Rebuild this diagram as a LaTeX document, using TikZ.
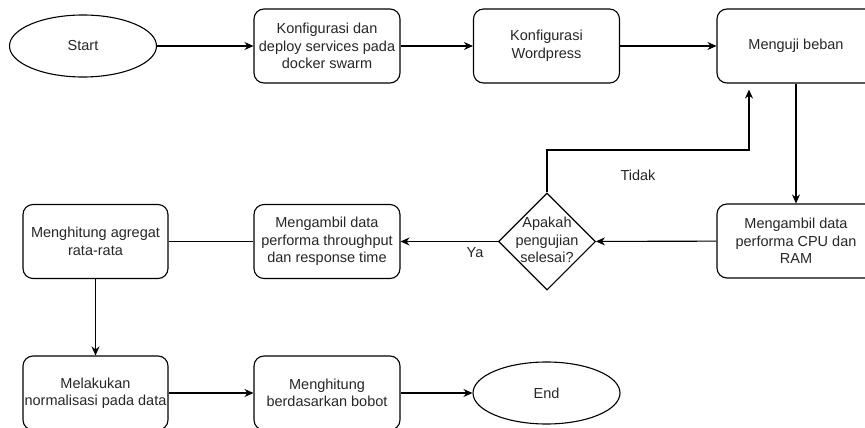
\documentclass[tikz,border=0pt]{standalone}
\usepackage{fontspec}
\setmainfont{Liberation Sans}
\usetikzlibrary{shapes.geometric,arrows.meta}
\tikzset{
  lbl/.style={font=\fontsize{14.5}{17.5}\selectfont, align=center, inner sep=0pt, text=black!85},
  proc/.style={lbl, draw, rounded corners=10pt, minimum width=146pt, minimum height=74pt, line width=1.1pt},
  term/.style={lbl, draw, ellipse, minimum width=147pt, minimum height=62pt, line width=1.1pt},
  dec/.style={draw, diamond, minimum width=97pt, minimum height=97pt, inner sep=0pt, line width=1.1pt},
  conn/.style={-{Stealth[length=9pt,width=8pt]}, line width=1.1pt},
  plain/.style={line width=1.1pt}
}
\begin{document}
\begin{tikzpicture}[x=1pt,y=-1pt]
\useasboundingbox (0,0) rectangle (865,428);
\node[term] (start) at (83,46) {Start};
\node[proc] (deploy) at (327,46) {Konfigurasi dan\\deploy services pada\\docker swarm};
\node[proc] (wp) at (546.5,46) {Konfigurasi\\Wordpress};
\node[proc, minimum width=158pt] (test) at (796,46) {Menguji beban};
\node[proc, minimum width=158pt] (cpu) at (796,241) {Mengambil data\\performa CPU dan\\RAM};
\node[dec] (dec) at (547,241.5) {};
\node[lbl] (dectxt) at (547,240) {Apakah\\pengujian\\selesai?};
\node[proc] (thr) at (327,241.5) {Mengambil data\\performa throughput\\dan response time};
\node[proc, minimum width=145pt] (agg) at (95.5,241.5) {Menghitung agregat\\rata-rata};
\node[proc, minimum width=145pt] (norm) at (95.5,393) {Melakukan\\normalisasi pada data};
\node[proc] (bobot) at (327,393) {Menghitung\\berdasarkan bobot};
\node[term] (end) at (546.5,393) {End};
\node[lbl] (tidak) at (638,175) {Tidak};
\node[lbl] (ya) at (475,253) {Ya};

\draw[conn] (start) -- (deploy);
\draw[conn] (deploy) -- (wp);
\draw[conn] (wp) -- (test);
\draw[conn] (test) -- (cpu);
\draw[conn] (cpu) -- (dec);
\draw[conn] (dec) -- (thr);
\draw[plain] (thr) -- (agg);
\draw[conn] (agg) -- (norm);
\draw[conn] (norm) -- (bobot);
\draw[conn] (bobot) -- (end);
\coordinate (tk) at (749,150);
\draw[conn, shorten >=6pt] (dec.north) |- (tk) -- (tk |- test.south);
\end{tikzpicture}
\end{document}
